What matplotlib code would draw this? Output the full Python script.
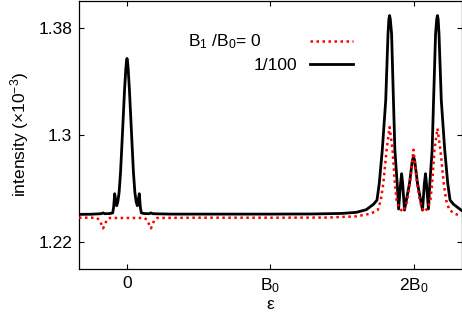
import matplotlib
matplotlib.use("Agg")
import matplotlib.pyplot as plt

plt.rcParams['font.family'] = ['Liberation Sans', 'DejaVu Sans']
plt.rcParams['mathtext.default'] = 'regular'

# x in units of B0
x_black = [-0.335, -0.25, -0.18, -0.167, -0.155, -0.12, -0.10, -0.093, -0.086, -0.080,
           -0.072, -0.064, -0.055, -0.045, -0.034, -0.017, -0.008, -0.003, 0.0, 0.003,
           0.008, 0.017, 0.034, 0.045, 0.055, 0.064, 0.072, 0.080, 0.086, 0.093,
           0.10, 0.12, 0.155, 0.167, 0.18, 0.3, 0.6, 1.0, 1.3, 1.5, 1.6, 1.67, 1.72,
           1.745, 1.761, 1.782, 1.806, 1.822, 1.828, 1.833, 1.838, 1.847, 1.860, 1.870, 1.886, 1.896,
           1.910, 1.917, 1.924, 1.937, 1.972, 1.992, 2.0, 2.008, 2.028, 2.063, 2.076, 2.084, 2.090, 2.104,
           2.114, 2.130, 2.140, 2.154, 2.162, 2.167, 2.172, 2.178, 2.194, 2.218, 2.239, 2.255, 2.28, 2.335]
y_black = [1.2405, 1.2406, 1.2410, 1.2416, 1.2410, 1.2411, 1.2416, 1.2460, 1.2560, 1.2520,
           1.2470, 1.2500, 1.2570, 1.2720, 1.2960, 1.3340, 1.3500, 1.3560, 1.3575, 1.3560,
           1.3500, 1.3340, 1.2960, 1.2720, 1.2570, 1.2500, 1.2470, 1.2520, 1.2560, 1.2460,
           1.2416, 1.2411, 1.2410, 1.2416, 1.2410, 1.2407, 1.2407, 1.2407, 1.2408, 1.2412, 1.2420, 1.2440, 1.2480,
           1.2512, 1.2637, 1.2887, 1.3260, 1.3760, 1.3870, 1.3897, 1.3870, 1.3760, 1.3260, 1.2887, 1.2637, 1.2445,
           1.2640, 1.2710, 1.2640, 1.2437, 1.2637, 1.2810, 1.2836, 1.2810, 1.2637, 1.2437, 1.2640, 1.2710, 1.2640, 1.2445,
           1.2637, 1.2887, 1.3260, 1.3760, 1.3870, 1.3897, 1.3870, 1.3760, 1.3260, 1.2887, 1.2637, 1.2512, 1.2480, 1.2435]

x_red = [-0.335, -0.25, -0.21, -0.19, -0.175, -0.167, -0.158, -0.14, -0.12, 0.0,
         0.12, 0.14, 0.158, 0.167, 0.175, 0.19, 0.21, 0.5, 1.0, 1.4, 1.6, 1.7, 1.75,
         1.772, 1.789, 1.812, 1.833, 1.854, 1.870, 1.882, 1.90, 1.928, 1.955, 1.975, 2.0,
         2.025, 2.045, 2.072, 2.10, 2.118, 2.130, 2.146, 2.167, 2.188, 2.211, 2.228, 2.25,
         2.30, 2.335]
y_red = [1.2380, 1.2380, 1.2378, 1.2360, 1.2320, 1.2300, 1.2320, 1.2365, 1.2378, 1.2378,
         1.2378, 1.2365, 1.2320, 1.2300, 1.2320, 1.2360, 1.2378, 1.2380, 1.2380, 1.2381, 1.2390, 1.2410, 1.2437,
         1.2512, 1.2637, 1.2887, 1.3060, 1.2887, 1.2637, 1.2512, 1.2450, 1.2425, 1.2500, 1.2637, 1.2890,
         1.2637, 1.2500, 1.2425, 1.2450, 1.2512, 1.2637, 1.2887, 1.3050, 1.2887, 1.2637, 1.2512, 1.2437,
         1.2405, 1.2395]

xtick_pos = [0, 1, 2]
xtick_labels = ['0', 'B$_0$', '2B$_0$']
ytick_pos = [1.22, 1.30, 1.38]
ytick_labels = ['1.22', '1.3', '1.38']
legend_labels = ['B$_1$ /B$_0$= 0', '1/100']

W, H = 462, 321
fig = plt.figure(figsize=(W / 100, H / 100), dpi=100)
ax = fig.add_axes([79 / W, 52 / H, (461.5 - 79) / W, (320.5 - 52) / H])

dot = (0, (1, 1.4))
ax.plot(x_red, y_red, color='#ff0000', lw=1.8, linestyle=dot, dash_capstyle='butt', zorder=3)
ax.plot(x_black, y_black, color='black', lw=2.0, zorder=2)

ax.set_xlim(-0.335, 2.335)
ax.set_ylim(1.1995, 1.401)
ax.set_xticks(xtick_pos)
ax.set_xticklabels(xtick_labels)
ax.set_yticks(ytick_pos)
ax.set_yticklabels(ytick_labels)
ax.tick_params(direction='in', length=3.5, width=0.8, top=True, right=True, labelsize=12.5, pad=5)
for s in ax.spines.values():
    s.set_linewidth(0.9)

ax.set_xlabel('ε', fontsize=12.5, labelpad=2)
ax.set_ylabel('intensity (×10$^{-3}$)', fontsize=12.5, labelpad=5)

# legend (gnuplot style)
ax.text(0.476, 0.829, legend_labels[0], transform=ax.transAxes, ha='right', va='baseline', fontsize=12.5)
ax.text(0.570, 0.740, legend_labels[1], transform=ax.transAxes, ha='right', va='baseline', fontsize=12.5)
ax.plot([0.604, 0.716], [0.848, 0.848], transform=ax.transAxes, color='#ff0000', lw=1.8,
        linestyle=dot, dash_capstyle='butt')
ax.plot([0.604, 0.716], [0.765, 0.765], transform=ax.transAxes, color='black', lw=2.0)

fig.savefig('out.png', dpi=100)
